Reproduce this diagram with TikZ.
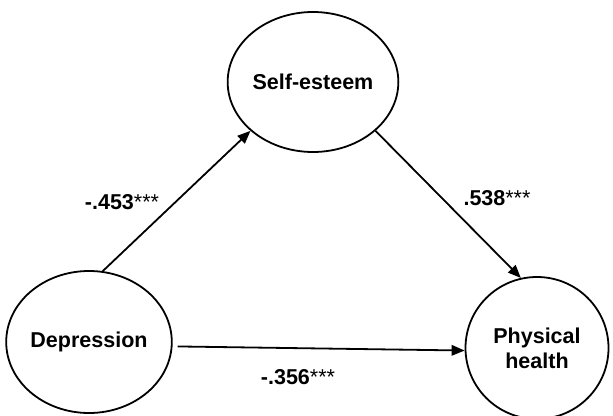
\documentclass[tikz,border=0pt]{standalone}
\usepackage{fontspec}
\setmainfont{Liberation Sans}
\usetikzlibrary{arrows.meta,shapes.geometric}

\tikzset{
  var/.style={draw=black, line width=1.8pt, ellipse, inner sep=0pt,
    font=\fontsize{21.5}{25}\selectfont\bfseries, align=center},
  coef/.style={font=\fontsize{21.5}{25}\selectfont},
  path/.style={line width=1.8pt, -{Triangle[length=13pt,width=10.5pt]}}
}

\begin{document}
\begin{tikzpicture}[x=1pt,y=-1pt]
\useasboundingbox (0,0) rectangle (613,415);
% variables
\node[var, minimum width=143pt, minimum height=140pt] (selfest) at (313,82) {Self-esteem};
\node[var, minimum width=146pt, minimum height=142pt] (depr) at (89,342) {Depression};
\node[var, minimum width=143pt, minimum height=142pt] (phys) at (537,348) {Physical\\health};
% paths
\draw[path] (depr.79) -- (selfest.218);
\draw[path] (selfest.-38) -- (phys.103);
\draw[path, shorten <=5pt] (depr.-3) -- (phys.182);
% coefficients
\node[coef] (c453) at (122,202) {\textbf{-.453}***};
\node[coef] (c538) at (497,198) {\textbf{.538}***};
\node[coef] (c356) at (298,377) {\textbf{-.356}***};
\end{tikzpicture}
\end{document}
